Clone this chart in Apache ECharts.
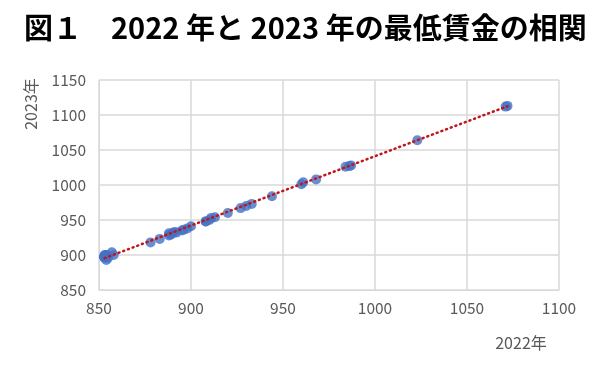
<!DOCTYPE html>
<html><head><meta charset="utf-8">
<script src="https://cdn.jsdelivr.net/npm/echarts@6/dist/echarts.min.js"></script>
<style>html,body{margin:0;padding:0;background:#fff}#c{width:600px;height:365px}</style>
</head><body><div id="c"></div>
<script>
const titleText = '図１　2022 年と 2023 年の最低賃金の相関';
const xName = '2022年';
const yName = '2023年';
// 都道府県別 + 全国加重平均
const wage2022 = [920,853,854,883,853,854,858,911,913,895,987,984,1072,1071,890,908,891,888,898,908,910,944,986,933,927,968,1023,960,896,889,854,857,892,930,888,855,878,853,853,900,853,853,853,854,853,853,853,961];
const wage2023 = [960,898,893,923,897,900,900,953,954,935,1028,1026,1113,1112,931,948,933,931,938,948,950,984,1027,973,967,1008,1064,1001,936,929,900,904,932,970,928,896,918,897,897,941,900,898,898,899,897,897,896,1004];
const trendX = [853, 1072];
const trendY = [895.5, 1112.5];
const xTicks = {min: 850, max: 1100, interval: 50};
const yTicks = {min: 850, max: 1150, interval: 50};

const pts = wage2022.map((v,i)=>[v, wage2023[i]]);
const trend = trendX.map((v,i)=>[v, trendY[i]]);
const lblFont = '"Noto Sans CJK JP",sans-serif';
const chart = echarts.init(document.getElementById('c'));
chart.setOption({
  animation:false,
  title:{text:titleText,left:19,top:8,textStyle:{fontSize:29,fontWeight:'bold',color:'#000',fontFamily:'"Noto Sans CJK JP",sans-serif'}},
  grid:{left:99,right:41,top:80,bottom:75},
  xAxis:{type:'value',min:xTicks.min,max:xTicks.max,interval:xTicks.interval,
    axisLine:{show:true,lineStyle:{color:'#d9d9d9'}},axisTick:{show:false},
    splitLine:{lineStyle:{color:'#d9d9d9',width:1.5}},
    axisLabel:{color:'#595959',fontSize:15.5,fontFamily:lblFont,margin:10,formatter:v=>String(v)}},
  yAxis:{type:'value',min:yTicks.min,max:yTicks.max,interval:yTicks.interval,
    axisLine:{show:true,lineStyle:{color:'#d9d9d9'}},axisTick:{show:false},
    splitLine:{lineStyle:{color:'#d9d9d9',width:1.5}},
    axisLabel:{color:'#595959',fontSize:15.5,fontFamily:lblFont,margin:13,formatter:v=>String(v)}},
  graphic:[
    {type:'text',x:31,y:104,rotation:Math.PI/2,style:{text:yName,fill:'#595959',font:'16px '+lblFont,textAlign:'center',textVerticalAlign:'middle'}},
    {type:'text',x:521,y:343,style:{text:xName,fill:'#595959',font:'16px '+lblFont,textAlign:'center',textVerticalAlign:'middle'}}
  ],
  series:[
    {type:'scatter',data:pts,symbolSize:10,itemStyle:{color:'#4472C4'},z:2},
    {type:'line',data:trend,symbol:'none',z:3,lineStyle:{color:'#C0151B',width:2.5,type:[1,4],cap:'round'}}
  ]
});
</script></body></html>
